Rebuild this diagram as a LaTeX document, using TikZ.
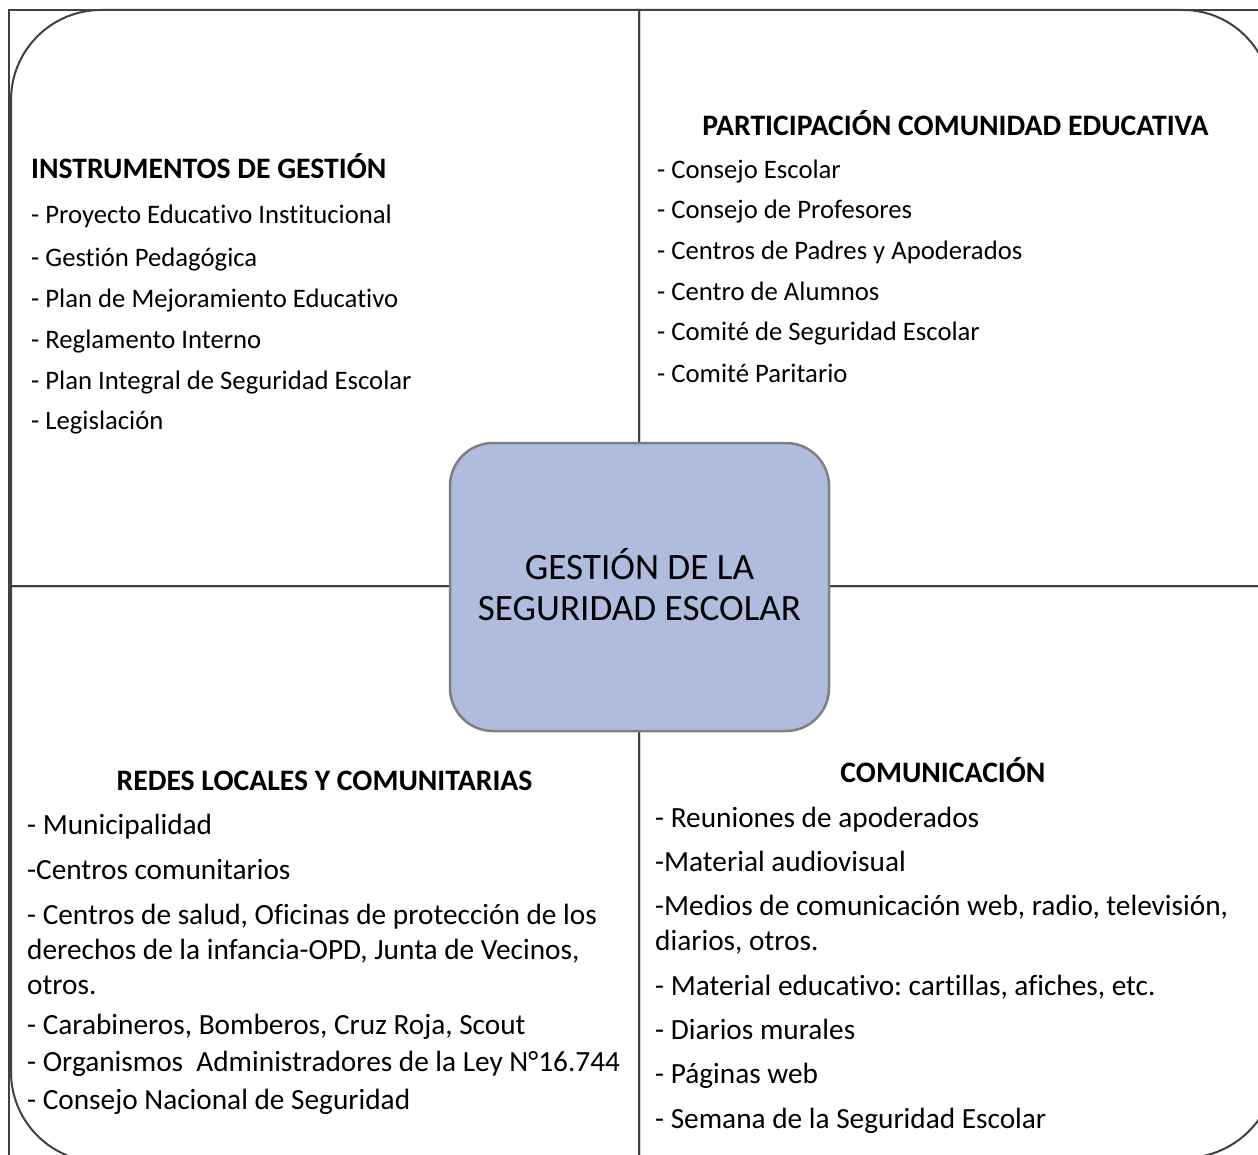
\documentclass[tikz,border=0pt]{standalone}
\usepackage{fontspec}
\setmainfont{Carlito}[Ligatures=CommonOff]
\frenchspacing
\definecolor{linegray}{HTML}{404040}
\definecolor{boxborder}{HTML}{7F7F7F}
\definecolor{boxfill}{HTML}{AFBCDE}
\begin{document}
\begin{tikzpicture}[x=1pt,y=-1pt]
\tikzset{
  frameline/.style={draw=linegray, line width=2.5pt},
  panel/.style={draw=linegray, line width=2pt},
  itemtop/.style={anchor=base west, inner sep=0pt, font=\fontsize{26.7}{32}\selectfont},
  itembot/.style={anchor=base west, inner sep=0pt, font=\fontsize{29.3}{35}\selectfont},
  headtxt/.style={anchor=base, inner sep=0pt, font=\fontsize{29.7}{35}\selectfont\bfseries},
  centerbox/.style={draw=boxborder, fill=boxfill, line width=2.5pt, rounded corners=43pt,
    minimum width=379pt, minimum height=288pt, inner sep=0pt},
  centretxt/.style={align=center, inner sep=0pt, font=\fontsize{37.2}{41}\selectfont},
}
\fill[white] (0,0) rectangle (1258,1155);
\useasboundingbox (0,0) rectangle (1258,1155);

% panels with one rounded corner each
\draw[panel] (639,586) -- (11,586) -- (11,100) arc[start angle=180, end angle=270, radius=90] -- (639,10) -- cycle;
\draw[panel] (639,586) -- (639,10) -- (1183,10) arc[start angle=270, end angle=360, radius=88] -- (1271,586) -- cycle;
\draw[panel] (639,586) -- (11,586) -- (11,1072) arc[start angle=180, end angle=90, radius=90] -- (639,1162) -- cycle;
\draw[panel] (639,586) -- (1276,586) -- (1276,1066) arc[start angle=0, end angle=90, radius=92] -- (639,1158) -- cycle;

% outer frame and dividers
\draw[frameline] (9,1160) -- (9,10) -- (1270,10);
\draw[frameline] (639,10) -- (639,1160);
\draw[frameline] (9,586) -- (1270,586);

% centre
\node[centerbox] (centre) at (639.5,587) {};
\node[centretxt] (centretext) at (639.5,585) {GESTIÓN DE LA\\SEGURIDAD ESCOLAR};

% top left
\node[headtxt, anchor=base west] (tlh) at (31,179) {INSTRUMENTOS DE GESTIÓN};
\node[itemtop] (tl1) at (31,224) {- Proyecto Educativo Institucional};
\node[itemtop] (tl2) at (31,267) {- Gestión Pedagógica};
\node[itemtop] (tl3) at (31,308) {- Plan de Mejoramiento Educativo};
\node[itemtop] (tl4) at (31,349) {- Reglamento Interno};
\node[itemtop] (tl5) at (31,389) {- Plan Integral de Seguridad Escolar};
\node[itemtop] (tl6) at (31,429) {- Legislación};

% top right
\node[headtxt] (trh) at (955.5,136) {PARTICIPACIÓN COMUNIDAD EDUCATIVA};
\node[itemtop] (tr1) at (657,179) {- Consejo Escolar};
\node[itemtop] (tr2) at (657,219) {- Consejo de Profesores};
\node[itemtop] (tr3) at (657,260) {- Centros de Padres y Apoderados};
\node[itemtop] (tr4) at (657,301) {- Centro de Alumnos};
\node[itemtop] (tr5) at (657,341) {- Comité de Seguridad Escolar};
\node[itemtop] (tr6) at (657,382) {- Comité Paritario};

% bottom left
\node[headtxt] (blh) at (324.5,790) {REDES LOCALES Y COMUNITARIAS};
\node[itembot] (bl1) at (27,834) {- Municipalidad};
\node[itembot] (bl2) at (27,879) {-Centros comunitarios};
\node[itembot] (bl3) at (27,924) {- Centros de salud, Oficinas de protección de los};
\node[itembot] (bl3b) at (27,959) {derechos de la infancia-OPD, Junta de Vecinos,};
\node[itembot] (bl3c) at (27,994) {otros.};
\node[itembot] (bl4) at (27,1034) {- Carabineros, Bomberos, Cruz Roja, Scout};
\node[itembot] (bl5) at (27,1071) {- Organismos\ \ Administradores de la Ley N°16.744};
\node[itembot] (bl6) at (27,1109) {- Consejo Nacional de Seguridad};

% bottom right
\node[headtxt] (brh) at (943,782) {COMUNICACIÓN};
\node[itembot] (br1) at (655,827) {- Reuniones de apoderados};
\node[itembot] (br2) at (655,871) {-Material audiovisual};
\node[itembot] (br3) at (655,915) {-Medios de comunicación web, radio, televisión,};
\node[itembot] (br3b) at (655,950) {diarios, otros.};
\node[itembot] (br4) at (655,995) {- Material educativo: cartillas, afiches, etc.};
\node[itembot] (br5) at (655,1039) {- Diarios murales};
\node[itembot] (br6) at (655,1083) {- Páginas web};
\node[itembot] (br7) at (655,1128) {- Semana de la Seguridad Escolar};
\end{tikzpicture}
\end{document}
